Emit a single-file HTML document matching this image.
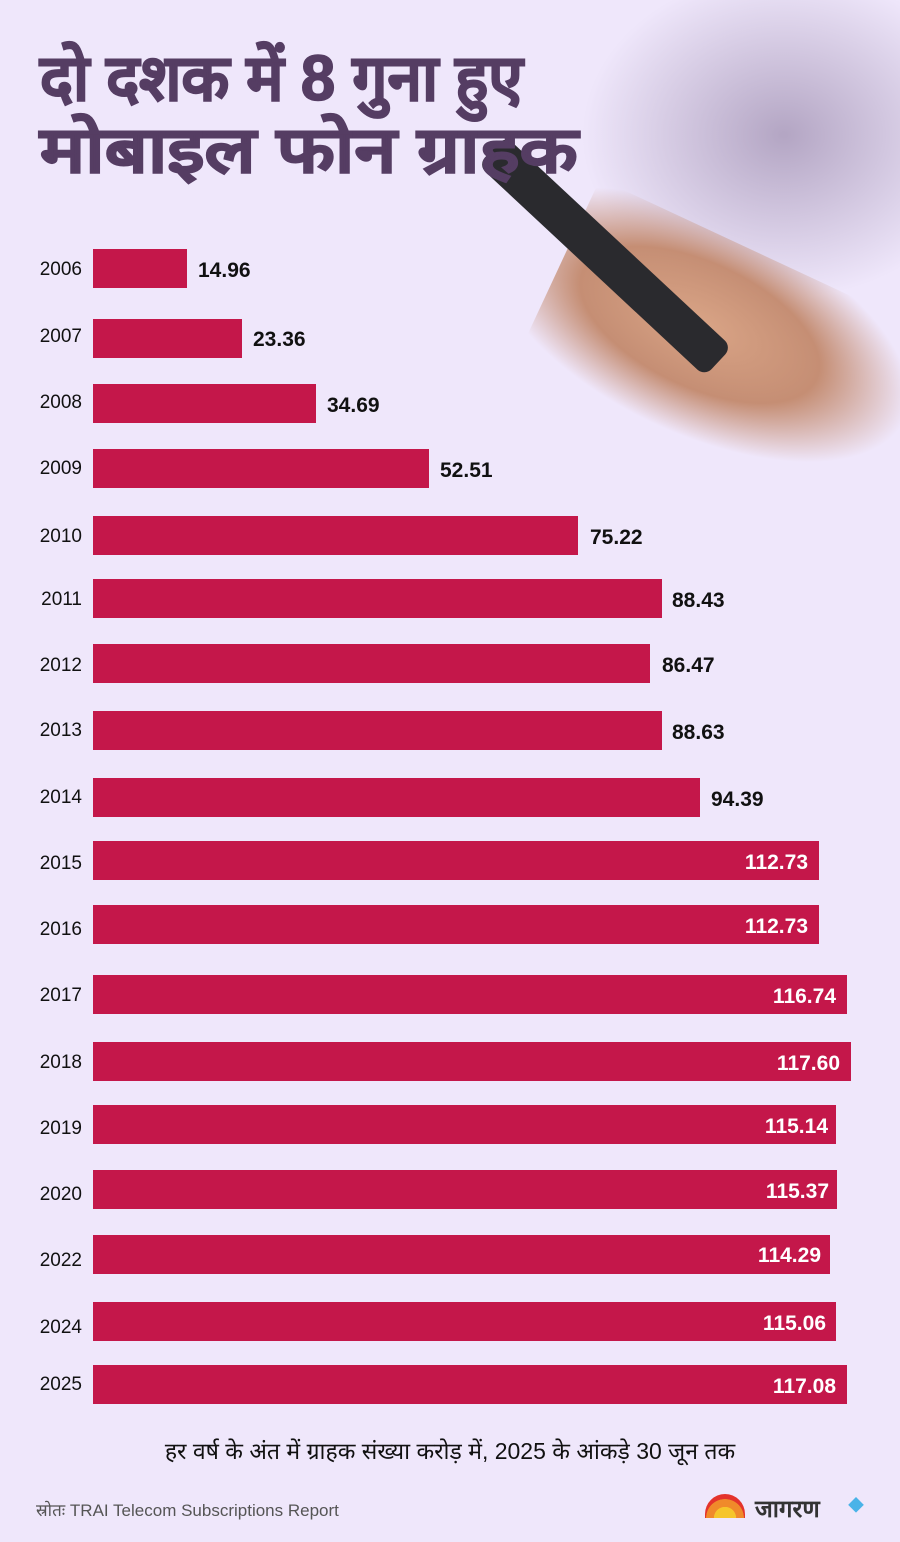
<!DOCTYPE html>
<html><head><meta charset="utf-8"><style>
body{margin:0;width:900px;height:1542px;background:#efe7fb;position:relative;overflow:hidden;font-family:"Liberation Sans","Noto Sans CJK SC",sans-serif}
.t{position:absolute;left:40px;color:#553d63;font-weight:bold;font-size:64px;line-height:1;transform-origin:0 0;-webkit-text-stroke:1.5px #553d63}
.bar{position:absolute;left:93px;height:39px;background:#c4174a}
.yr{position:absolute;left:0;width:82px;text-align:right;font-size:19px;color:#111}
.v{position:absolute;font-size:21px;font-weight:bold;color:#111}
.vi{position:absolute;font-size:21px;font-weight:bold;color:#fff;text-align:right}
</style></head><body>
<div style="position:absolute;left:580px;top:0;width:340px;height:300px;background:radial-gradient(ellipse at 60% 45%,rgba(120,100,140,0.5),rgba(239,231,251,0) 70%)"></div>
<div style="position:absolute;left:540px;top:250px;width:380px;height:200px;background:radial-gradient(ellipse at 40% 45%,#d9a486 0%,#c58e74 40%,rgba(239,231,251,0) 70%);transform:rotate(25deg)"></div>
<div style="position:absolute;left:478px;top:165px;width:40px;height:310px;background:#2a2a2e;border-radius:10px;transform:rotate(-47deg);transform-origin:0 0"></div>
<div class="t" style="top:46px;transform:scaleX(0.97)">दो दशक में 8 गुना हुए</div>
<div class="t" style="top:118px;transform:scaleX(1.18)">मोबाइल फोन ग्राहक</div>

<div class="bar" style="top:249px;width:94px"></div><div class="yr" style="top:259px">2006</div><div class="v" style="left:198px;top:259px">14.96</div>
<div class="bar" style="top:319px;width:149px"></div><div class="yr" style="top:326px">2007</div><div class="v" style="left:253px;top:328px">23.36</div>
<div class="bar" style="top:384px;width:223px"></div><div class="yr" style="top:392px">2008</div><div class="v" style="left:327px;top:394px">34.69</div>
<div class="bar" style="top:449px;width:336px"></div><div class="yr" style="top:458px">2009</div><div class="v" style="left:440px;top:459px">52.51</div>
<div class="bar" style="top:516px;width:485px"></div><div class="yr" style="top:526px">2010</div><div class="v" style="left:590px;top:526px">75.22</div>
<div class="bar" style="top:579px;width:569px"></div><div class="yr" style="top:589px">2011</div><div class="v" style="left:672px;top:589px">88.43</div>
<div class="bar" style="top:644px;width:557px"></div><div class="yr" style="top:655px">2012</div><div class="v" style="left:662px;top:654px">86.47</div>
<div class="bar" style="top:711px;width:569px"></div><div class="yr" style="top:720px">2013</div><div class="v" style="left:672px;top:721px">88.63</div>
<div class="bar" style="top:778px;width:607px"></div><div class="yr" style="top:787px">2014</div><div class="v" style="left:711px;top:788px">94.39</div>
<div class="bar" style="top:841px;width:726px"></div><div class="yr" style="top:853px">2015</div><div class="vi" style="left:600px;width:208px;top:851px">112.73</div>
<div class="bar" style="top:905px;width:726px"></div><div class="yr" style="top:919px">2016</div><div class="vi" style="left:600px;width:208px;top:915px">112.73</div>
<div class="bar" style="top:975px;width:754px"></div><div class="yr" style="top:985px">2017</div><div class="vi" style="left:600px;width:236px;top:985px">116.74</div>
<div class="bar" style="top:1042px;width:758px"></div><div class="yr" style="top:1052px">2018</div><div class="vi" style="left:600px;width:240px;top:1052px">117.60</div>
<div class="bar" style="top:1105px;width:743px"></div><div class="yr" style="top:1118px">2019</div><div class="vi" style="left:600px;width:228px;top:1115px">115.14</div>
<div class="bar" style="top:1170px;width:744px"></div><div class="yr" style="top:1184px">2020</div><div class="vi" style="left:600px;width:229px;top:1180px">115.37</div>
<div class="bar" style="top:1235px;width:737px"></div><div class="yr" style="top:1250px">2022</div><div class="vi" style="left:600px;width:221px;top:1244px">114.29</div>
<div class="bar" style="top:1302px;width:743px"></div><div class="yr" style="top:1317px">2024</div><div class="vi" style="left:600px;width:226px;top:1312px">115.06</div>
<div class="bar" style="top:1365px;width:754px"></div><div class="yr" style="top:1374px">2025</div><div class="vi" style="left:600px;width:236px;top:1375px">117.08</div>

<div style="position:absolute;left:0;width:900px;text-align:center;top:1434px;font-size:23px;color:#111">हर वर्ष के अंत में ग्राहक संख्या करोड़ में, 2025 के आंकड़े 30 जून तक</div>
<div style="position:absolute;left:36px;top:1498px;font-size:17px;color:#555">स्रोतः TRAI Telecom Subscriptions Report</div>
<div style="position:absolute;left:705px;top:1494px;width:40px;height:24px;border-radius:20px 20px 0 0;background:radial-gradient(circle at 50% 100%,#f6c52a 35%,#f08a2a 36%,#f08a2a 60%,#e4332b 61%)"></div>
<div style="position:absolute;left:755px;top:1492px;font-size:24px;font-weight:bold;color:#333">जागरण</div>
<div style="position:absolute;left:848px;top:1492px;font-size:16px;color:#4ab3e8">◆</div>
</body></html>
